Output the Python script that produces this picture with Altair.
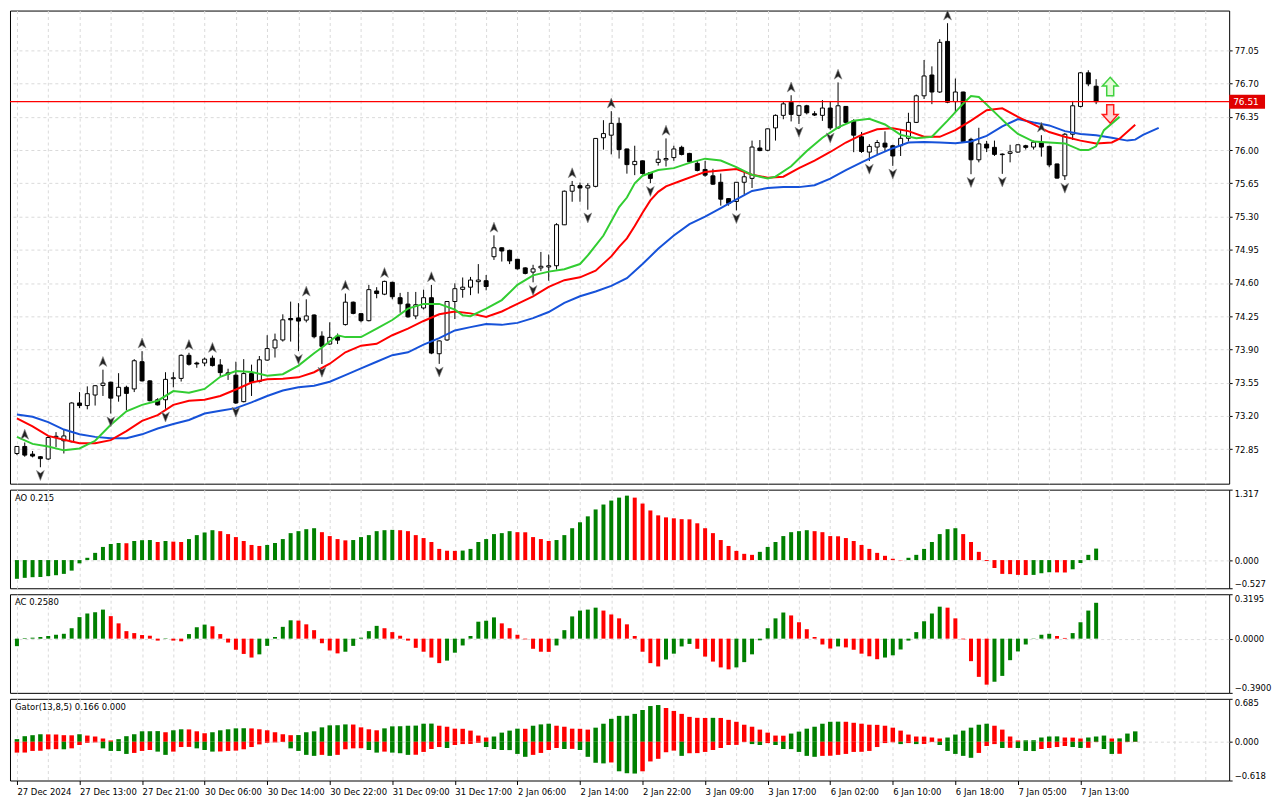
import json
import altair as alt
import pandas as pd

# ---------------- data ----------------
time_labels = ["27 Dec 2024", "27 Dec 13:00", "27 Dec 21:00", "30 Dec 06:00", "30 Dec 14:00",
               "30 Dec 22:00", "31 Dec 09:00", "31 Dec 17:00", "2 Jan 06:00", "2 Jan 14:00",
               "2 Jan 22:00", "3 Jan 09:00", "3 Jan 17:00", "6 Jan 02:00", "6 Jan 10:00",
               "6 Jan 18:00", "7 Jan 05:00", "7 Jan 13:00"]

opens = [72.804, 72.878, 72.797, 72.77, 72.746, 72.975, 72.938, 72.928, 73.336, 73.309,
         73.42, 73.521, 73.555, 73.41, 73.501, 73.484, 73.771, 73.569, 73.37, 73.37,
         73.592, 73.595, 73.838, 73.757, 73.757, 73.808, 73.737, 73.653, 73.629, 73.35,
         73.646, 73.562, 73.788, 73.916, 74.0, 74.226, 74.232, 74.209, 74.263, 74.04,
         73.957, 74.04, 74.162, 74.398, 74.277, 74.203, 74.516, 74.482, 74.607, 74.445,
         74.378, 74.253, 74.337, 74.445, 73.855, 74.0, 74.405, 74.533, 74.556, 74.614,
         74.624, 74.877, 74.971, 74.944, 74.85, 74.759, 74.715, 74.759, 74.769, 74.782,
         75.213, 75.567, 75.625, 75.601, 75.618, 76.13, 76.157, 76.282, 76.012, 75.847,
         75.887, 75.763, 75.87, 75.897, 75.921, 76.029, 75.965, 75.86, 75.796, 75.729,
         75.661, 75.489, 75.459, 75.661, 75.702, 76.022, 75.998, 76.234, 76.366, 76.504,
         76.366, 76.467, 76.383, 76.366, 76.443, 76.234, 76.46, 76.308, 76.14, 75.979,
         76.032, 76.073, 76.046, 76.046, 76.124, 76.292, 76.572, 76.791, 76.612, 77.145,
         76.511, 76.612, 76.113, 75.898, 76.063, 76.029, 75.958, 75.965, 75.979, 76.046,
         76.032, 76.08, 76.039, 75.854, 75.729, 76.167, 76.46, 76.814, 76.673]
highs = [72.88, 72.92, 72.83, 72.777, 72.989, 73.029, 73.056, 73.343, 73.451, 73.511,
         73.525, 73.687, 73.56, 73.65, 73.518, 73.798, 73.882, 73.575, 73.387, 73.66,
         73.66, 73.848, 73.865, 73.771, 73.815, 73.835, 73.798, 73.697, 73.771, 73.798,
         73.74, 73.831, 74.05, 74.067, 74.27, 74.404, 74.388, 74.428, 74.27, 74.091,
         74.186, 74.068, 74.489, 74.405, 74.28, 74.58, 74.556, 74.624, 74.614, 74.496,
         74.506, 74.506, 74.53, 74.58, 73.995, 74.41, 74.597, 74.658, 74.664, 74.799,
         74.684, 75.102, 74.975, 74.951, 74.852, 74.765, 74.792, 74.927, 74.9, 75.23,
         75.574, 75.675, 75.658, 75.651, 76.126, 76.315, 76.41, 76.342, 76.015, 76.046,
         75.89, 75.766, 75.995, 76.123, 76.046, 76.046, 75.971, 75.887, 75.887, 75.803,
         75.753, 75.492, 75.664, 75.769, 76.1, 76.106, 76.227, 76.376, 76.511, 76.578,
         76.477, 76.477, 76.41, 76.527, 76.511, 76.713, 76.463, 76.325, 76.19, 76.063,
         76.107, 76.198, 76.056, 76.215, 76.393, 76.585, 76.949, 76.882, 77.168, 77.337,
         76.754, 76.615, 76.13, 76.235, 76.097, 76.1, 75.965, 76.056, 76.06, 76.056,
         76.1, 76.157, 76.046, 75.857, 76.181, 76.518, 76.821, 76.841, 76.747]
lows = [72.787, 72.77, 72.763, 72.659, 72.736, 72.871, 72.804, 72.922, 73.282, 73.269,
        73.309, 73.41, 73.225, 73.35, 73.259, 73.451, 73.562, 73.353, 73.309, 73.275,
        73.501, 73.562, 73.73, 73.707, 73.724, 73.72, 73.619, 73.579, 73.326, 73.343,
        73.41, 73.552, 73.781, 73.815, 73.983, 73.983, 73.882, 74.185, 74.017, 73.747,
        73.95, 73.957, 74.152, 74.27, 74.186, 74.196, 74.439, 74.472, 74.428, 74.287,
        74.235, 74.219, 74.321, 73.85, 73.748, 73.99, 74.22, 74.445, 74.472, 74.489,
        74.523, 74.843, 74.826, 74.799, 74.742, 74.691, 74.607, 74.725, 74.624, 74.742,
        75.21, 75.456, 75.456, 75.372, 75.608, 76.005, 75.955, 75.911, 75.752, 75.736,
        75.742, 75.651, 75.837, 75.827, 75.887, 75.944, 75.864, 75.776, 75.719, 75.634,
        75.415, 75.415, 75.365, 75.533, 75.601, 75.988, 75.988, 76.1, 76.325, 76.302,
        76.275, 76.376, 76.359, 76.308, 76.214, 76.224, 76.282, 75.978, 75.97, 75.885,
        75.955, 75.989, 75.834, 75.938, 76.09, 76.285, 76.538, 76.484, 76.602, 76.494,
        76.393, 76.08, 75.746, 75.871, 75.979, 75.938, 75.75, 75.871, 75.972, 76.006,
        76.006, 75.931, 75.82, 75.70, 75.685, 76.107, 76.45, 76.673, 76.484]
closes = [72.878, 72.787, 72.777, 72.75, 72.972, 72.985, 72.989, 73.336, 73.309, 73.434,
          73.518, 73.545, 73.387, 73.501, 73.437, 73.781, 73.569, 73.36, 73.316, 73.585,
          73.602, 73.838, 73.744, 73.747, 73.798, 73.73, 73.656, 73.64, 73.336, 73.646,
          73.555, 73.791, 73.909, 74.0, 74.212, 74.212, 74.199, 74.253, 74.034, 73.933,
          74.027, 73.998, 74.398, 74.28, 74.203, 74.53, 74.489, 74.617, 74.455, 74.381,
          74.243, 74.371, 74.445, 73.862, 73.99, 74.405, 74.54, 74.556, 74.631, 74.631,
          74.563, 74.971, 74.937, 74.833, 74.749, 74.701, 74.749, 74.776, 74.782, 75.214,
          75.567, 75.628, 75.601, 75.625, 76.123, 76.174, 76.282, 76.005, 75.847, 75.881,
          75.753, 75.702, 75.904, 75.911, 76.012, 75.954, 75.877, 75.786, 75.736, 75.641,
          75.483, 75.439, 75.661, 75.719, 76.032, 75.995, 76.224, 76.366, 76.487, 76.376,
          76.467, 76.393, 76.369, 76.443, 76.234, 76.467, 76.292, 76.157, 75.985, 76.039,
          76.08, 76.032, 75.938, 76.124, 76.292, 76.572, 76.781, 76.612, 77.135, 76.504,
          76.612, 76.09, 75.898, 76.066, 76.022, 75.955, 75.952, 75.982, 76.056, 76.029,
          76.083, 76.032, 75.844, 75.705, 76.167, 76.467, 76.814, 76.697, 76.51]

up_fractals = [1, 11, 16, 22, 25, 37, 42, 47, 53, 61, 71, 76, 83, 99, 105, 119, 131]
down_fractals = [3, 12, 19, 28, 36, 39, 54, 66, 73, 81, 92, 100, 104, 109, 112, 122, 126, 134]

jaw = [(0, 73.215), (2, 73.191), (4, 73.134), (6, 73.056), (8, 73.006), (10, 72.979), (12, 72.965),
       (14, 72.965), (16, 73.006), (18, 73.067), (20, 73.114), (22, 73.157), (24, 73.225), (26, 73.255),
       (28, 73.282), (30, 73.343), (32, 73.41), (34, 73.467), (36, 73.501), (38, 73.518), (40, 73.56),
       (42, 73.63), (44, 73.70), (46, 73.77), (48, 73.84), (50, 73.87), (52, 73.95), (54, 74.02),
       (56, 74.10), (58, 74.135), (60, 74.169), (62, 74.159), (64, 74.18), (66, 74.23), (68, 74.294),
       (70, 74.39), (72, 74.46), (74, 74.51), (76, 74.57), (78, 74.65), (80, 74.80), (82, 74.96),
       (84, 75.10), (86, 75.22), (88, 75.30), (90, 75.39), (92, 75.48), (94, 75.57), (96, 75.60),
       (98, 75.61), (100, 75.61), (102, 75.63), (104, 75.70), (106, 75.79), (108, 75.87), (110, 75.95),
       (112, 76.02), (114, 76.08), (116, 76.085), (118, 76.08), (120, 76.073), (122, 76.09), (124, 76.15),
       (126, 76.25), (128, 76.326), (130, 76.29), (132, 76.26), (134, 76.20), (136, 76.17), (138, 76.157),
       (140, 76.13), (142, 76.10), (143, 76.11), (144, 76.16), (146, 76.235)]
teeth = [(0, 73.174), (2, 73.09), (4, 72.989), (6, 72.949), (8, 72.912), (10, 72.912), (12, 72.945),
         (14, 73.04), (16, 73.147), (18, 73.208), (20, 73.316), (22, 73.36), (24, 73.37), (26, 73.41),
         (28, 73.478), (30, 73.552), (32, 73.585), (34, 73.592), (36, 73.606), (38, 73.66), (40, 73.75),
         (42, 73.87), (44, 73.94), (46, 73.96), (48, 74.05), (50, 74.12), (52, 74.20), (54, 74.27),
         (56, 74.30), (58, 74.28), (60, 74.243), (62, 74.30), (64, 74.38), (66, 74.46), (68, 74.56),
         (70, 74.63), (72, 74.66), (74, 74.73), (76, 74.88), (77, 74.98), (78, 75.07), (79, 75.20),
         (80, 75.34), (81, 75.47), (82, 75.56), (83, 75.618), (85, 75.68), (88, 75.77), (90, 75.785),
         (92, 75.80), (94, 75.74), (96, 75.71), (98, 75.72), (100, 75.81), (102, 75.89), (104, 75.98),
         (106, 76.08), (108, 76.16), (110, 76.22), (112, 76.23), (114, 76.20), (116, 76.14), (118, 76.14),
         (120, 76.21), (122, 76.31), (124, 76.42), (126, 76.44), (128, 76.35), (130, 76.27), (132, 76.19),
         (134, 76.14), (136, 76.10), (138, 76.07), (140, 76.08), (141, 76.12), (143, 76.268)]
lips = [(0, 72.979), (2, 72.905), (4, 72.878), (6, 72.837), (8, 72.857), (10, 72.938), (12, 73.107),
        (14, 73.249), (16, 73.316), (18, 73.36), (20, 73.461), (22, 73.444), (24, 73.484), (26, 73.612),
        (28, 73.673), (30, 73.663), (32, 73.622), (34, 73.639), (36, 73.73), (38, 73.86), (39, 73.92),
        (41, 74.05), (42, 74.03), (44, 74.03), (46, 74.12), (48, 74.21), (50, 74.33), (52, 74.38),
        (54, 74.38), (56, 74.32), (57, 74.26), (58, 74.25), (60, 74.33), (62, 74.42), (64, 74.58),
        (66, 74.68), (68, 74.72), (70, 74.745), (72, 74.80), (73, 74.89), (75, 75.10), (77, 75.40),
        (78, 75.50), (79, 75.65), (80, 75.73), (82, 75.79), (84, 75.81), (86, 75.865), (88, 75.91),
        (90, 75.89), (92, 75.82), (94, 75.74), (96, 75.70), (97, 75.72), (99, 75.83), (101, 75.99),
        (103, 76.13), (105, 76.24), (107, 76.31), (109, 76.33), (111, 76.27), (113, 76.16), (115, 76.125),
        (117, 76.14), (119, 76.31), (121, 76.49), (122, 76.57), (123, 76.56), (125, 76.40), (127, 76.24),
        (128, 76.17), (130, 76.09), (132, 76.08), (134, 76.07), (136, 76.00), (137, 76.00), (138, 76.04),
        (139, 76.21), (141, 76.35)]

bid = 76.51
signal_bar = 139.8
signal_up_price = 76.67
signal_down_price = 76.38
price_ticks = [72.85, 73.20, 73.55, 73.90, 74.25, 74.60, 74.95, 75.30, 75.65, 76.00, 76.35, 76.70, 77.05]

ao_vals = [-0.35, -0.332, -0.32, -0.315, -0.30, -0.283, -0.258, -0.197, -0.061, 0.043,
           0.135, 0.246, 0.301, 0.32, 0.315, 0.357, 0.372, 0.375, 0.338, 0.357,
           0.345, 0.338, 0.393, 0.467, 0.516, 0.559, 0.541, 0.486, 0.43, 0.357,
           0.283, 0.264, 0.283, 0.32, 0.393, 0.504, 0.541, 0.578, 0.596, 0.522,
           0.449, 0.393, 0.369, 0.375, 0.43, 0.467, 0.541, 0.559, 0.565, 0.559,
           0.541, 0.467, 0.412, 0.338, 0.209, 0.175, 0.172, 0.178, 0.209, 0.338,
           0.393, 0.486, 0.504, 0.541, 0.522, 0.52, 0.43, 0.393, 0.357, 0.375,
           0.467, 0.596, 0.707, 0.818, 0.947, 1.039, 1.113, 1.168, 1.205, 1.168,
           1.057, 0.928, 0.836, 0.799, 0.781, 0.765, 0.762, 0.688, 0.596, 0.504,
           0.375, 0.264, 0.172, 0.117, 0.098, 0.154, 0.246, 0.338, 0.449, 0.522,
           0.541, 0.559, 0.541, 0.522, 0.449, 0.445, 0.412, 0.357, 0.283, 0.209,
           0.135, 0.08, 0.025, -0.005, 0.043, 0.098, 0.209, 0.338, 0.486, 0.578,
           0.596, 0.486, 0.338, 0.154, -0.018, -0.148, -0.258, -0.262, -0.277, -0.28,
           -0.277, -0.246, -0.227, -0.23, -0.232, -0.172, -0.055, 0.098, 0.215]
ao_runs = [("G", 14), ("R", 1), ("G", 3), ("R", 1), ("G", 1), ("R", 2), ("G", 4), ("R", 6), ("G", 7),
           ("R", 4), ("G", 6), ("R", 8), ("G", 7), ("R", 5), ("G", 10), ("R", 16), ("G", 7), ("R", 12),
           ("G", 7), ("R", 9), ("G", 3), ("R", 2), ("G", 4)]

ac_vals = [-0.054, 0.004, 0.007, 0.012, 0.019, 0.028, 0.035, 0.075, 0.155, 0.181,
           0.19, 0.209, 0.162, 0.11, 0.054, 0.04, 0.026, 0.021, -0.014, 0.003,
           -0.014, -0.019, 0.033, 0.082, 0.101, 0.089, 0.033, -0.028, -0.08, -0.11,
           -0.136, -0.113, -0.052, 0.012, 0.085, 0.132, 0.13, 0.103, 0.061, -0.033,
           -0.085, -0.106, -0.094, -0.052, 0.007, 0.054, 0.092, 0.075, 0.047, 0.021,
           -0.014, -0.066, -0.094, -0.136, -0.176, -0.158, -0.101, -0.049, 0.019, 0.122,
           0.129, 0.153, 0.11, 0.075, 0.028, -0.005, -0.073, -0.094, -0.095, -0.049,
           0.061, 0.16, 0.202, 0.209, 0.223, 0.202, 0.174, 0.146, 0.103, 0.019,
           -0.094, -0.176, -0.2, -0.15, -0.108, -0.056, -0.038, -0.073, -0.129, -0.165,
           -0.207, -0.221, -0.207, -0.169, -0.113, -0.012, 0.075, 0.146, 0.188, 0.167,
           0.118, 0.068, 0.012, -0.042, -0.071, -0.056, -0.063, -0.08, -0.108, -0.127,
           -0.148, -0.136, -0.12, -0.078, -0.014, 0.047, 0.125, 0.181, 0.23, 0.223,
           0.146, -0.005, -0.162, -0.275, -0.331, -0.31, -0.268, -0.155, -0.092, -0.042,
           -0.002, 0.028, 0.035, 0.019, 0.005, 0.04, 0.118, 0.202, 0.258]
ac_runs = [("G", 12), ("R", 7), ("G", 1), ("R", 2), ("G", 3), ("R", 6), ("G", 5), ("R", 6), ("G", 5),
           ("R", 8), ("G", 7), ("R", 7), ("G", 6), ("R", 8), ("G", 4), ("R", 5), ("G", 7), ("R", 6),
           ("G", 1), ("R", 5), ("G", 8), ("R", 6), ("G", 8), ("R", 2), ("G", 4)]

gator_up = [0.042, 0.089, 0.105, 0.12, 0.118, 0.116, 0.105, 0.103, 0.12, 0.099,
            0.084, 0.052, 0.021, 0.042, 0.089, 0.12, 0.167, 0.168, 0.17, 0.152,
            0.183, 0.199, 0.197, 0.167, 0.136, 0.152, 0.183, 0.199, 0.214, 0.216,
            0.213, 0.199, 0.183, 0.152, 0.12, 0.105, 0.107, 0.152, 0.167, 0.23,
            0.262, 0.264, 0.277, 0.275, 0.23, 0.199, 0.183, 0.214, 0.246, 0.248,
            0.256, 0.258, 0.288, 0.29, 0.256, 0.24, 0.209, 0.207, 0.178, 0.099,
            0.068, 0.084, 0.146, 0.178, 0.209, 0.207, 0.256, 0.277, 0.288, 0.256,
            0.24, 0.209, 0.207, 0.194, 0.225, 0.288, 0.366, 0.413, 0.415, 0.445,
            0.507, 0.57, 0.586, 0.539, 0.492, 0.445, 0.397, 0.382, 0.38, 0.382,
            0.38, 0.35, 0.319, 0.272, 0.24, 0.194, 0.146, 0.099, 0.097, 0.131,
            0.162, 0.209, 0.24, 0.288, 0.319, 0.321, 0.319, 0.303, 0.288, 0.272,
            0.27, 0.256, 0.225, 0.178, 0.115, 0.084, 0.082, 0.068, 0.052, 0.068,
            0.115, 0.178, 0.225, 0.272, 0.288, 0.256, 0.194, 0.084, 0.021, 0.023,
            0.025, 0.068, 0.084, 0.086, 0.068, 0.066, 0.052, 0.068, 0.084, 0.099,
            0.052, 0.054, 0.131, 0.166]
gator_down = [-0.173, -0.172, -0.146, -0.145, -0.12, -0.118, -0.12, -0.105, -0.052, -0.016,
              -0.01, -0.105, -0.146, -0.148, -0.194, -0.178, -0.146, -0.131, -0.157, -0.209,
              -0.157, -0.084, -0.082, -0.105, -0.131, -0.157, -0.155, -0.146, -0.141, -0.12,
              -0.084, -0.042, -0.016, -0.01, -0.003, -0.105, -0.146, -0.209, -0.225, -0.209,
              -0.225, -0.209, -0.12, -0.105, -0.103, -0.131, -0.173, -0.157, -0.173, -0.183,
              -0.209, -0.207, -0.162, -0.115, -0.084, -0.099, -0.052, -0.037, -0.035, -0.016,
              -0.084, -0.115, -0.131, -0.133, -0.194, -0.24, -0.209, -0.178, -0.131, -0.099,
              -0.115, -0.113, -0.131, -0.24, -0.335, -0.345, -0.33, -0.471, -0.502, -0.507,
              -0.471, -0.314, -0.272, -0.167, -0.141, -0.225, -0.183, -0.181, -0.162, -0.131,
              -0.099, -0.052, -0.05, -0.005, -0.037, -0.052, -0.021, -0.052, -0.115, -0.117,
              -0.162, -0.225, -0.24, -0.225, -0.223, -0.209, -0.194, -0.162, -0.16, -0.146,
              -0.084, -0.021, -0.008, -0.037, -0.021, -0.037, -0.035, -0.005, -0.052, -0.146,
              -0.194, -0.225, -0.256, -0.178, -0.068, -0.037, -0.099, -0.097, -0.099, -0.146,
              -0.148, -0.115, -0.099, -0.084, -0.068, -0.084, -0.099, -0.097, -0.005, -0.115,
              -0.194, -0.192, -0.005, -0.003]
gator_up_runs = [("G", 4), ("R", 4), ("G", 1), ("R", 4), ("G", 6), ("R", 1), ("G", 2), ("R", 3), ("G", 5),
                 ("R", 6), ("G", 7), ("R", 4), ("G", 7), ("R", 7), ("G", 4), ("R", 1), ("G", 3), ("R", 5),
                 ("G", 9), ("R", 6), ("G", 1), ("R", 9), ("G", 7), ("R", 13), ("G", 6), ("R", 4), ("G", 5),
                 ("R", 3), ("G", 3), ("R", 1), ("G", 3)]
gator_down_runs = [("R", 6), ("G", 1), ("R", 4), ("G", 4), ("R", 3), ("G", 2), ("R", 3), ("G", 3), ("R", 9),
                   ("G", 4), ("R", 1), ("G", 1), ("R", 4), ("G", 2), ("R", 1), ("G", 3), ("R", 4), ("G", 1),
                   ("R", 4), ("G", 6), ("R", 4), ("G", 1), ("R", 1), ("G", 4), ("R", 1), ("G", 3), ("R", 5),
                   ("G", 1), ("R", 8), ("G", 2), ("R", 1), ("G", 6), ("R", 10), ("G", 1), ("R", 1), ("G", 1),
                   ("R", 2), ("G", 5), ("R", 3), ("G", 1), ("R", 1), ("G", 3), ("R", 4), ("G", 2), ("R", 2),
                   ("G", 2), ("R", 3)]

ao_label = "AO 0.215"
ac_label = "AC 0.2580"
gator_label = "Gator(13,8,5) 0.166 0.000"
ao_range = [-0.527, 1.317]
ac_range = [-0.39, 0.3195]
gator_range = [-0.618, 0.685]

# ---------------- styling ----------------
W = 1224
H_MAIN, H_AO, H_AC, H_GT = 475, 99, 99, 82
XDOM = [-0.25, 154.375]
YDOM = [72.486, 77.47]
FONT = "DejaVu Sans"
FS = 8.5
GREEN, RED = "#008000", "#ff0000"
GRID = "#dadada"
UP_PATH = "M0,-1L0.75,0.9L0,0.4L-0.75,0.9Z"
DN_PATH = "M0,1L0.75,-0.9L0,-0.4L-0.75,-0.9Z"
SIG_UP = "M0,-1L0.85,-0.05L0.38,-0.05L0.38,1L-0.38,1L-0.38,-0.05L-0.85,-0.05Z"
SIG_DN = "M0,1L0.85,0.05L0.38,0.05L0.38,-1L-0.38,-1L-0.38,0.05L-0.85,0.05Z"


def runs(spec):
    return list("".join(c * n for c, n in spec))


x_scale = alt.Scale(domain=XDOM, nice=False, zero=False)
grid_vals = list(range(0, 153, 4))
last_label = 8 * (len(time_labels) - 1)

grid_axis = alt.Axis(values=grid_vals, grid=True, gridColor=GRID, gridDash=[3, 3], labels=False,
                     ticks=False, domain=False, title=None)
label_expr = ("(datum.value % 8 == 0 && datum.value <= " + str(last_label) + ") ? "
              + json.dumps(time_labels) + "[datum.value / 8] : ''")
tick_test = "datum.value % 8 == 0 && datum.value <= " + str(last_label)
bottom_axis = alt.Axis(values=grid_vals, grid=True, gridColor=GRID, gridDash=[3, 3], labelExpr=label_expr,
                       labelAlign="left", labelBaseline="top", labelPadding=3, labelFlush=False,
                       labelOverlap=False, labelBound=False, tickSize=4, tickColor="black",
                       tickOpacity={"condition": {"test": tick_test, "value": 1}, "value": 0},
                       domain=False, title=None)


def ind_axis(rng, fmt):
    return alt.Axis(orient="right", values=[rng[0], 0, rng[1]], format=fmt, labelFlush=True,
                    grid=True, gridColor=GRID, gridDash=[3, 3],
                    gridOpacity={"condition": {"test": "datum.value === 0", "value": 1}, "value": 0},
                    tickSize=3, tickColor="black", labelPadding=2, domain=False, title=None)


main_y_scale = alt.Scale(domain=YDOM, nice=False, zero=False)
main_y_axis = alt.Axis(orient="right", values=price_ticks, format=".2f", grid=True, gridColor=GRID,
                       gridDash=[3, 3], tickSize=3, tickColor="black", labelPadding=2, labelFlush=False,
                       domain=False, title=None)


def X(field="i", axis=grid_axis):
    return alt.X(field + ":Q", scale=x_scale, axis=axis)


def YM(field):
    return alt.Y(field + ":Q", scale=main_y_scale, axis=main_y_axis)


# ---------------- main price panel ----------------
df = pd.DataFrame({"i": range(len(opens)), "o": opens, "h": highs, "l": lows, "c": closes})
base = alt.Chart(df)
wicks = base.mark_rule(color="black", strokeWidth=1).encode(x=X(), y=YM("l"), y2="h:Q")
bodies = base.mark_bar(size=4, stroke="black", strokeWidth=1).encode(
    x=X(), y=YM("o"), y2="c:Q",
    fill=alt.condition("datum.c >= datum.o", alt.value("white"), alt.value("black")))

lines = []
for pts, col in [(jaw, "#1652d9"), (teeth, "#ff0000"), (lips, "#32cd32")]:
    ldf = pd.DataFrame(pts, columns=["i", "v"])
    lines.append(alt.Chart(ldf).mark_line(color=col, strokeWidth=2, clip=True).encode(x=X(), y=YM("v")))

up_df = df.loc[up_fractals, ["i", "h"]]
dn_df = df.loc[down_fractals, ["i", "l"]]
frac_up = alt.Chart(up_df).mark_point(shape=UP_PATH, filled=True, fill="#222222", stroke="#8c8c8c",
                                      strokeWidth=0.6, size=110, opacity=1, yOffset=-8,
                                      clip=True).encode(x=X(), y=YM("h"))
frac_dn = alt.Chart(dn_df).mark_point(shape=DN_PATH, filled=True, fill="#222222", stroke="#8c8c8c",
                                      strokeWidth=0.6, size=110, opacity=1, yOffset=8,
                                      clip=True).encode(x=X(), y=YM("l"))

bid_df = pd.DataFrame({"p": [bid], "t": ["%.2f" % bid]})
bid_line = alt.Chart(bid_df).mark_rule(stroke="#ff0000", color="#ff0000", strokeWidth=1.3,
                                       opacity=1).encode(y=YM("p"))
bid_tag = alt.Chart(bid_df).mark_rect(color="#e00000", yOffset=-7, y2Offset=7).encode(
    x=alt.value(W), x2=alt.value(W + 36), y=YM("p"), y2="p:Q")
bid_txt = alt.Chart(bid_df).mark_text(align="left", baseline="middle", color="white", font=FONT,
                                      fontSize=FS + 0.5).encode(x=alt.value(W + 4), y=YM("p"), text="t:N")

sig_df = pd.DataFrame({"i": [signal_bar, signal_bar], "p": [signal_up_price, signal_down_price],
                       "k": ["up", "dn"]})
sig_up = alt.Chart(sig_df).transform_filter("datum.k == 'up'").mark_point(
    shape=SIG_UP, filled=True, fill="#e4fbd8", stroke="#3fd23f", strokeWidth=1.5, size=340, opacity=1
).encode(x=X(), y=YM("p"))
sig_dn = alt.Chart(sig_df).transform_filter("datum.k == 'dn'").mark_point(
    shape=SIG_DN, filled=True, fill="#ffd2d2", stroke="#ff1a1a", strokeWidth=1.5, size=340, opacity=1
).encode(x=X(), y=YM("p"))

main = alt.layer(wicks, bodies, *lines, bid_line, frac_up, frac_dn, sig_up, sig_dn, bid_tag, bid_txt
                 ).properties(width=W, height=H_MAIN)

color_scale = alt.Scale(domain=["G", "R"], range=[GREEN, RED])


def title_layer(txt):
    return alt.Chart(pd.DataFrame({"t": [txt]})).mark_text(
        align="left", baseline="middle", font=FONT, fontSize=FS, color="black"
    ).encode(x=alt.value(5), y=alt.value(8), text="t:N")


def histo_panel(vals, colors, rng, fmt, label, height, xaxis):
    d = pd.DataFrame({"i": range(len(vals)), "v": vals, "col": colors})
    bars = alt.Chart(d).mark_bar(size=4).encode(
        x=X(axis=xaxis),
        y=alt.Y("v:Q", scale=alt.Scale(domain=rng, nice=False, zero=False), axis=ind_axis(rng, fmt)),
        y2=alt.datum(0),
        color=alt.Color("col:N", scale=color_scale, legend=None))
    return alt.layer(bars, title_layer(label)).properties(width=W, height=height)


ao = histo_panel(ao_vals, runs(ao_runs), ao_range, ".3f", ao_label, H_AO, grid_axis)
ac = histo_panel(ac_vals, runs(ac_runs), ac_range, ".4f", ac_label, H_AC, grid_axis)

gdf = pd.DataFrame({"i": range(len(gator_up)), "u": gator_up, "d": gator_down,
                    "cu": runs(gator_up_runs), "cd": runs(gator_down_runs)})
g_scale = alt.Scale(domain=gator_range, nice=False, zero=False)
g_up = alt.Chart(gdf).mark_bar(size=4.5).encode(
    x=X(axis=bottom_axis), y=alt.Y("u:Q", scale=g_scale, axis=ind_axis(gator_range, ".3f")),
    y2=alt.datum(0), color=alt.Color("cu:N", scale=color_scale, legend=None))
g_dn = alt.Chart(gdf).mark_bar(size=4.5).encode(
    x=X(axis=bottom_axis), y=alt.Y("d:Q", scale=g_scale, axis=ind_axis(gator_range, ".3f")),
    y2=alt.datum(0), color=alt.Color("cd:N", scale=color_scale, legend=None))
gator = alt.layer(g_up, g_dn, title_layer(gator_label)).properties(width=W, height=H_GT)

chart = alt.vconcat(main, ao, ac, gator, spacing=4,
                    padding={"left": 0, "top": 0, "right": 0, "bottom": 0},
                    background="white").resolve_scale(
    x="independent", y="independent").configure_view(stroke="black", strokeWidth=1).configure_axis(
    labelFont=FONT, labelFontSize=FS, labelColor="black")

chart.save("out.html", embed_options={"renderer": "svg", "actions": False, "padding": 0})
